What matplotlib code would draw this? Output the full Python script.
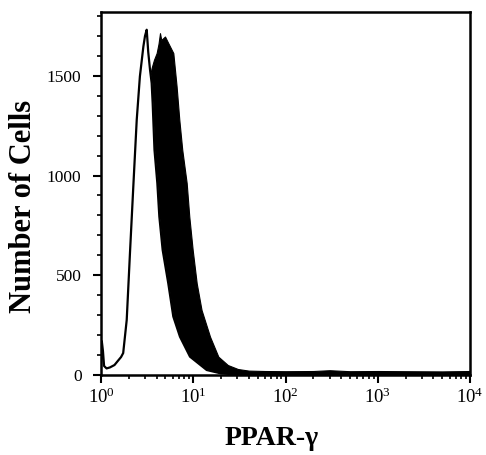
import matplotlib
matplotlib.use("Agg")
import matplotlib.pyplot as plt
from matplotlib.ticker import MultipleLocator, LogLocator, NullFormatter, FixedLocator

# Control (open histogram)
control_x = [1.00, 1.02, 1.05, 1.08, 1.15, 1.25, 1.40, 1.55, 1.65, 1.74, 1.90, 2.06,
             2.24, 2.44, 2.64, 2.88, 3.00, 3.13, 3.25, 3.40, 3.54, 3.63, 3.80, 4.08,
             4.29, 4.66, 5.36, 6.08, 7.18, 9.22, 14.0, 20.0, 30.0, 60.0, 200.0,
             1000.0, 10000.0]
control_counts = [40, 170, 120, 45, 33, 38, 50, 75, 90, 110, 276, 610,
                  945, 1280, 1497, 1647, 1700, 1731, 1620, 1530, 1464, 1364, 1129, 962,
                  794, 627, 460, 293, 192, 92, 25, 8, 3, 2, 2,
                  1, 1]

# PPAR-gamma stained (filled histogram)
ppar_x = [1.00, 1.5, 2.0, 2.5, 3.0, 3.2, 3.40, 3.54, 3.75, 4.01, 4.20, 4.36, 4.50,
          4.94, 5.36, 6.08, 6.60, 7.06, 7.60, 8.49, 9.06, 9.86, 10.9, 12.3, 15.2,
          18.7, 23.7, 30.5, 40.0, 60.0, 100.0, 200.0, 300.0, 500.0, 1000.0,
          2000.0, 5000.0, 10000.0]
ppar_counts = [0, 5, 40, 250, 900, 1300, 1500, 1540, 1580, 1614, 1660, 1714, 1680,
               1697, 1664, 1614, 1447, 1280, 1129, 962, 794, 627, 460, 326, 192,
               92, 50, 30, 22, 20, 19, 20, 24, 19, 20, 19, 18, 20]

y_ticks = [0, 500, 1000, 1500]
x_ticks = [1, 10, 100, 1000, 10000]
x_ticklabels = [r'$\mathregular{10^{0}}$', r'$\mathregular{10^{1}}$', r'$\mathregular{10^{2}}$',
                r'$\mathregular{10^{3}}$', r'$\mathregular{10^{4}}$']

plt.rcParams['font.family'] = ['Liberation Serif', 'DejaVu Serif']
plt.rcParams['mathtext.fontset'] = 'custom'
plt.rcParams['mathtext.rm'] = 'Liberation Serif'

fig = plt.figure(figsize=(4.86, 4.55), dpi=100)
ax = fig.add_axes([101/486, 80/455, 369/486, 363/455])

ax.fill_between(ppar_x, 0, ppar_counts, color='black', linewidth=0.8, zorder=1)
ax.fill_between(control_x, 0, control_counts, color='white', linewidth=0, zorder=1.5)
ax.plot(control_x, control_counts, color='black', linewidth=1.6, zorder=1.6)

ax.set_xscale('log')
ax.set_xlim(1, 10000)
ax.set_ylim(0, 1820)

ax.set_yticks(y_ticks)
ax.set_yticklabels([str(v) for v in y_ticks])
ax.yaxis.set_minor_locator(MultipleLocator(100))
ax.xaxis.set_major_locator(FixedLocator(x_ticks))
ax.set_xticklabels(x_ticklabels)
ax.xaxis.set_minor_locator(LogLocator(base=10, subs=range(2, 10)))
ax.xaxis.set_minor_formatter(NullFormatter())

ax.tick_params(axis='both', which='major', direction='out', length=6, width=1.5,
               labelsize=12.5, pad=4)
ax.tick_params(axis='x', which='major', labelsize=13.5, pad=3)
ax.tick_params(axis='both', which='minor', direction='out', length=3, width=1.2)
ax.tick_params(axis='y', which='major', pad=8)

for s in ax.spines.values():
    s.set_linewidth(1.8)

ax.set_ylabel('Number of Cells', fontsize=22, fontweight='bold')
ax.set_xlabel('PPAR-γ', fontsize=20, fontweight='bold')
ax.yaxis.set_label_coords(-0.172, 0.464)
ax.xaxis.set_label_coords(0.463, -0.14)

fig.savefig('out.png', dpi=100)
